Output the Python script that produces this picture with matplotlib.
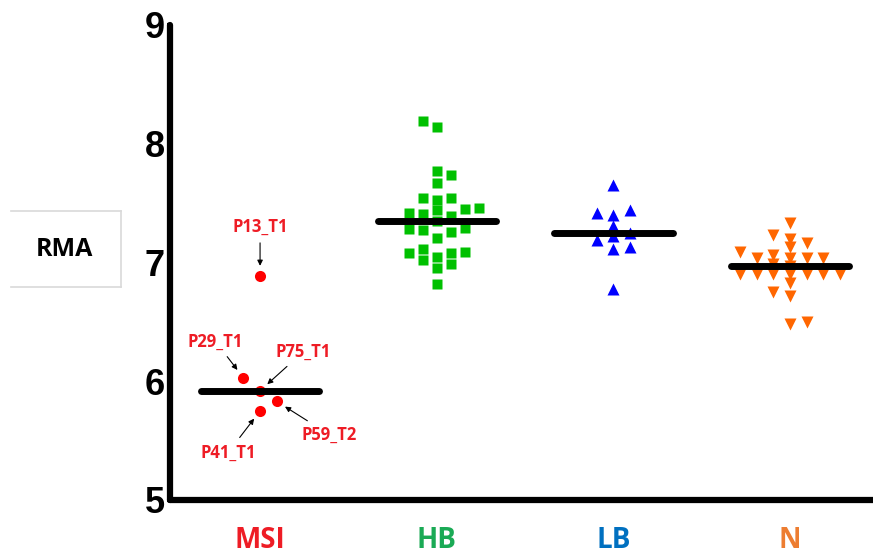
# RMA scatter dot plot per group, median line, annotated MSI samples
import matplotlib.pyplot as plt
import numpy as np

groups = ['MSI', 'HB', 'LB', 'N']

msi = [6.89, 6.03, 5.92, 5.83, 5.75]
msi_ids = ['P13_T1', 'P29_T1', 'P75_T1', 'P59_T2', 'P41_T1']
hb = [8.19, 8.14, 7.77, 7.74, 7.67, 7.54, 7.53, 7.54, 7.46, 7.44, 7.41, 7.42, 7.45, 7.35, 7.39,
      7.28, 7.26, 7.27, 7.29, 7.21, 7.05, 7.08, 6.99, 7.08, 7.09, 7.02, 7.11, 6.95, 6.82]
lb = [7.65, 7.42, 7.44, 7.40, 7.31, 7.22, 7.25, 7.19, 7.13, 7.11, 6.78]
nn = [7.33, 7.23, 7.20, 7.16, 7.13, 7.09, 7.06, 7.04, 7.04, 7.04, 7.04, 6.99, 6.97,
      6.905, 6.905, 6.905, 6.905, 6.905, 6.905, 6.905, 6.83, 6.75, 6.72, 6.50, 6.48]
values = [msi, hb, lb, nn]

point_colors = ['#ff0000', '#00c000', '#0000ff', '#ff6600']
label_colors = ['#ee1c25', '#1aaa55', '#0070c0', '#ed7d31']
markers = ['o', 's', '^', 'v']
msizes = [8, 7, 8.5, 8.5]
# swarm layout: column step (px), row clearance (px), sub-steps per column
swarm_cfg = [(16.7, 14, 1), (14, 10, 1), (16.7, 10, 2), (16.7, 7.5, 2)]

# annotation offsets (points) for the labelled MSI samples
ann_off = {'P13_T1': (0, 35), 'P29_T1': (-20, 26), 'P75_T1': (31, 28),
           'P59_T2': (38, -24), 'P41_T1': (-23, -30)}


def swarm(vals, w, h, sub, xpx, ypx):
    # greedy lattice swarm: each point takes the free slot nearest the centre
    order = np.argsort(vals, kind='stable')
    placed = []
    xs = np.zeros(len(vals))
    sign = 1
    for i in order:
        y = vals[i] * ypx
        near = [px for px, py in placed if abs(py - y) < h - 1e-6]
        k = 0
        while True:
            free = []
            for c in ([0.0] if k == 0 else [k * w / sub, -k * w / sub]):
                if all(abs(c - px) >= w - 1e-6 for px in near):
                    free.append(c)
            if free:
                if len(free) == 2:
                    pick = free[0] if sign > 0 else free[1]
                    sign = -sign
                else:
                    pick = free[0]
                xs[i] = pick
                break
            k += 1
        placed.append((xs[i], y))
    return xs / xpx


fig = plt.figure(figsize=(8.73, 5.54), dpi=100)
ax = fig.add_axes([0.1947, 0.0975, 0.8053, 0.8574])
ax.set_xlim(-0.51, 3.47)
ax.set_ylim(5, 9)
xpx = 873 * 0.8053 / (3.47 + 0.51)
ypx = 554 * 0.8574 / 4.0

for i, vals in enumerate(values):
    vals = np.array(vals)
    w, h, sub = swarm_cfg[i]
    dx = swarm(vals, w, h, sub, xpx, ypx)
    ax.plot(i + dx, vals, linestyle='none', marker=markers[i], ms=msizes[i],
            color=point_colors[i], mec='none', zorder=2, clip_on=False)
    med = np.median(vals)
    ax.plot([i - 0.335, i + 0.335], [med, med], color='black', lw=5,
            solid_capstyle='round', zorder=3)
    if i == 0:
        for k, name in enumerate(msi_ids):
            ax.annotate(name, xy=(dx[k], vals[k]), xytext=ann_off[name],
                        textcoords='offset points', ha='center', va='center',
                        fontsize=12, fontweight='bold', color='#ee1c25',
                        family='Open Sans',
                        arrowprops=dict(arrowstyle='-|>', color='black', lw=0.8,
                                        mutation_scale=8, shrinkA=3, shrinkB=7))

for side in ['top', 'right']:
    ax.spines[side].set_visible(False)
for side in ['left', 'bottom']:
    ax.spines[side].set_linewidth(4.5)
    ax.spines[side].set_capstyle('round')

ax.set_yticks([5, 6, 7, 8, 9])
ax.set_yticklabels(['5', '6', '7', '8', '9'], fontsize=26, fontweight='bold',
                   family='Liberation Sans')
ax.set_xticks(range(len(groups)))
ax.set_xticklabels(groups, fontsize=20, fontweight='bold', family='Open Sans')
for lbl, c in zip(ax.get_xticklabels(), label_colors):
    lbl.set_color(c)
ax.tick_params(axis='y', length=2.5, width=3, pad=1)
ax.tick_params(axis='x', length=2.5, width=3, pad=16)

# the "RMA" caption box on the left
for xs_, ys_ in [([0.0126, 0.1386], [0.6183, 0.6183]), ([0.1386, 0.1386], [0.6183, 0.482]),
                 ([0.0126, 0.1386], [0.482, 0.482])]:
    fig.add_artist(plt.Line2D(xs_, ys_, color='#d9d9d9', lw=1.2))
fig.text(0.0733, 0.549, 'RMA', ha='center', va='center', fontsize=18,
         fontweight='bold', family='Open Sans')

fig.savefig('out.png', dpi=100)
